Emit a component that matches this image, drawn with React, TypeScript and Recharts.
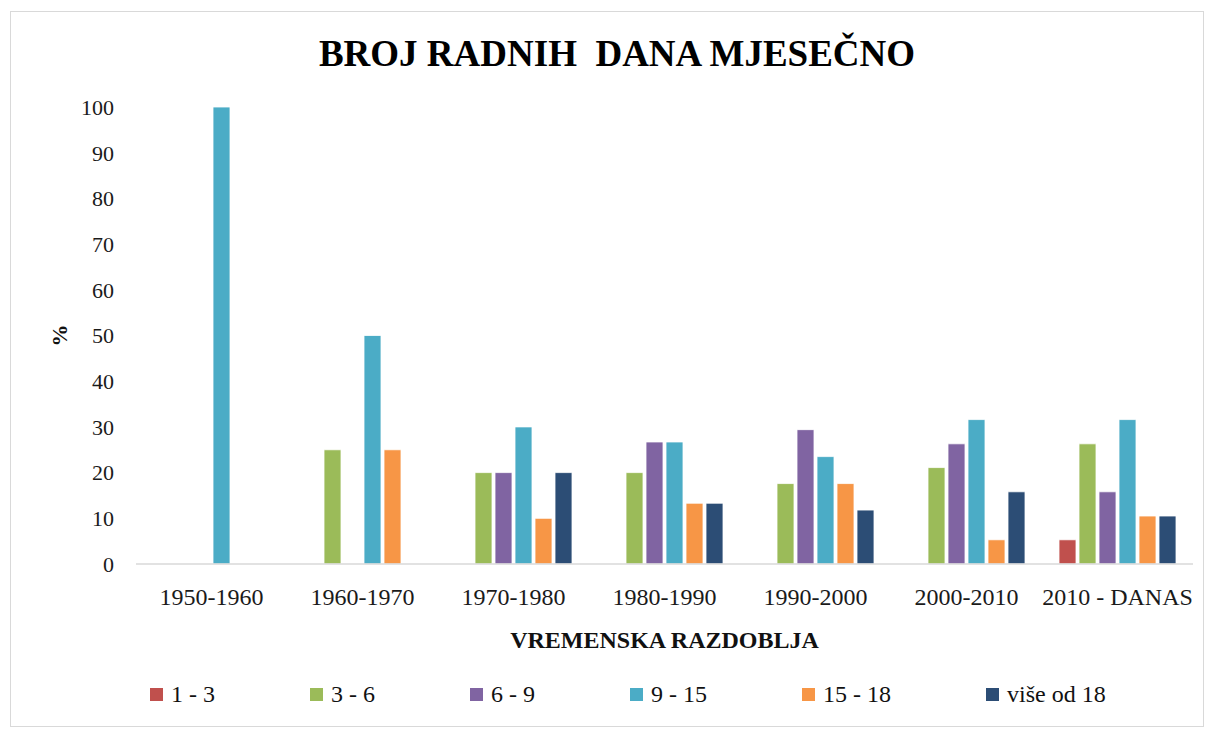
import React from 'react';
import { BarChart, Bar, XAxis, YAxis, Legend } from 'recharts';

const categories = ['1950-1960', '1960-1970', '1970-1980', '1980-1990', '1990-2000', '2000-2010', '2010 - DANAS'];
const series1to3 = [0, 0, 0, 0, 0, 0, 5.3];
const series3to6 = [0, 25, 20, 20, 17.6, 21.1, 26.3];
const series6to9 = [0, 0, 20, 26.7, 29.4, 26.3, 15.8];
const series9to15 = [100, 50, 30, 26.7, 23.5, 31.6, 31.6];
const series15to18 = [0, 25, 10, 13.3, 17.6, 5.3, 10.5];
const seriesOver18 = [0, 0, 20, 13.3, 11.8, 15.8, 10.5];
const seriesNames = ['1 - 3', '3 - 6', '6 - 9', '9 - 15', '15 - 18', 'više od 18'];
const yTicks = [0, 10, 20, 30, 40, 50, 60, 70, 80, 90, 100];
const title = 'BROJ RADNIH  DANA MJESEČNO';
const xTitle = 'VREMENSKA RAZDOBLJA';
const yTitle = '%';

const colors = ['#C0504D', '#9BBB59', '#8064A2', '#4BACC6', '#F79646', '#2C4D75'];
const seriesValues = [series1to3, series3to6, series6to9, series9to15, series15to18, seriesOver18];
const keys = ['s0', 's1', 's2', 's3', 's4', 's5'];

const data = categories.map((c, i) => {
  const row: any = { name: c };
  seriesValues.forEach((arr, k) => {
    row[keys[k]] = arr[i];
  });
  return row;
});

const FONT = '"Liberation Serif", "Times New Roman", serif';

const LegendContent = () => {
  return (
    <div style={{ display: 'flex', alignItems: 'center', height: 40, paddingLeft: 150, fontFamily: FONT, fontSize: 24, color: '#111' }}>
      {seriesNames.map((name, i) => (
        <div key={name} style={{ display: 'flex', alignItems: 'center', marginRight: 95 }}>
          <span style={{ display: 'inline-block', width: 13, height: 13, background: colors[i], marginRight: 8 }} />
          <span style={{ whiteSpace: 'pre' }}>{name}</span>
        </div>
      ))}
    </div>
  );
};

export default function App() {
  return (
    <div style={{ position: 'absolute', left: 0, top: 0, width: 1211, height: 729, background: '#fff', fontFamily: FONT }}>
      <div style={{ position: 'absolute', left: 10, top: 11, width: 1194, height: 716, border: '1px solid #d9d9d9', boxSizing: 'border-box' }} />
      <div style={{ position: 'absolute', left: 0, top: 35, width: 1234, textAlign: 'center', fontFamily: FONT, fontWeight: 'bold', fontSize: 37, lineHeight: 1, color: '#000', whiteSpace: 'pre' }}>
        {title}
      </div>
      <div style={{ position: 'absolute', left: 0, top: 0 }}>
        <BarChart width={1211} height={729} data={data} margin={{ top: 107, right: 18, left: 76, bottom: 65 }} barSize={17} barGap={3}>
          <XAxis
            dataKey="name"
            axisLine={{ stroke: '#d9d9d9', strokeWidth: 1.5 }}
            tickLine={false}
            tickSize={0}
            tickMargin={24}
            height={60}
            interval={0}
            tick={{ fill: '#1a1a1a', fontSize: 24, fontFamily: FONT }}
            label={{
              content: (p: any) => {
                const vb = p.viewBox;
                return (
                  <text x={vb.x + vb.width / 2} y={vb.y + 84} textAnchor="middle" fontFamily={FONT} fontWeight="bold" fontSize={24} fill="#111">
                    {xTitle}
                  </text>
                );
              },
            }}
          />
          <YAxis
            domain={[0, 100]}
            ticks={yTicks}
            width={60}
            axisLine={false}
            tickLine={false}
            tickSize={0}
            tickMargin={22}
            interval={0}
            tick={{ fill: '#1a1a1a', fontSize: 22, fontFamily: FONT }}
            label={{
              content: (p: any) => {
                const vb = p.viewBox;
                const cx = vb.x - 17;
                const cy = vb.y + vb.height / 2;
                return (
                  <text x={cx} y={cy} transform={`rotate(-90, ${cx}, ${cy})`} textAnchor="middle" dominantBaseline="central" fontFamily={FONT} fontWeight="bold" fontSize={22} fill="#111">
                    {yTitle}
                  </text>
                );
              },
            }}
          />
          <Legend
            verticalAlign="bottom"
            content={<LegendContent />}
            wrapperStyle={{ top: 674, bottom: 'auto', left: 0, width: 1211, height: 40 }}
          />
          {keys.map((k, i) => (
            <Bar key={k} dataKey={k} name={seriesNames[i]} fill={colors[i]} stroke="#ffffff" strokeWidth={0.8} isAnimationActive={false} />
          ))}
        </BarChart>
      </div>
    </div>
  );
}
